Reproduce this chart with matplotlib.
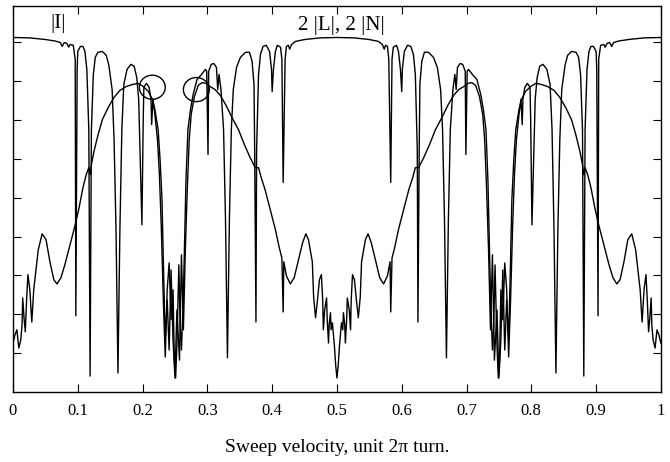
import matplotlib
matplotlib.use('Agg')
import matplotlib.pyplot as plt
from matplotlib.patches import Ellipse

# |I| curve: plateau at the edges and in the middle, cut by narrow resonances
i_x = [0, 0.026, 0.049, 0.065, 0.073, 0.076, 0.079, 0.083, 0.086, 0.088, 0.093, 0.096, 0.097, 0.099,
       0.100, 0.104, 0.108, 0.111, 0.114, 0.117, 0.119, 0.121, 0.124, 0.127, 0.131, 0.138, 0.144,
       0.148, 0.153, 0.156, 0.159, 0.162, 0.165, 0.168, 0.171, 0.176, 0.182, 0.187, 0.191, 0.194,
       0.196, 0.199, 0.201, 0.202, 0.206, 0.210, 0.213, 0.214, 0.216, 0.219, 0.223, 0.226, 0.229,
       0.232, 0.235, 0.238, 0.241, 0.244, 0.247, 0.249, 0.251, 0.253, 0.256, 0.258, 0.260, 0.263,
       0.265, 0.267, 0.270, 0.274, 0.278, 0.284, 0.291, 0.297, 0.299, 0.301, 0.302, 0.306, 0.310,
       0.314, 0.316, 0.318, 0.321, 0.325, 0.328, 0.331, 0.334, 0.337, 0.340, 0.345, 0.351, 0.359,
       0.365, 0.369, 0.372, 0.373, 0.375, 0.376, 0.379, 0.382, 0.386, 0.391, 0.396, 0.399, 0.400,
       0.402, 0.405, 0.408, 0.413, 0.415, 0.417, 0.420, 0.422, 0.425, 0.427, 0.430, 0.436, 0.451,
       0.474, 0.5,
       0.526, 0.549, 0.564, 0.570, 0.573, 0.575, 0.578, 0.580, 0.583, 0.585, 0.587, 0.592, 0.595,
       0.598, 0.600, 0.601, 0.604, 0.609, 0.614, 0.618, 0.621, 0.624, 0.625, 0.627, 0.628, 0.631,
       0.635, 0.641, 0.649, 0.655, 0.660, 0.663, 0.666, 0.669, 0.672, 0.675, 0.679, 0.682, 0.684,
       0.686, 0.690, 0.694, 0.698, 0.699, 0.701, 0.703, 0.709, 0.716, 0.722, 0.726, 0.730, 0.733,
       0.735, 0.737, 0.740, 0.742, 0.744, 0.747, 0.749, 0.751, 0.753, 0.756, 0.759, 0.762, 0.765,
       0.768, 0.771, 0.774, 0.777, 0.781, 0.784, 0.786, 0.787, 0.790, 0.794, 0.798, 0.799, 0.801,
       0.804, 0.806, 0.809, 0.813, 0.818, 0.824, 0.829, 0.832, 0.835, 0.838, 0.841, 0.844, 0.847,
       0.852, 0.856, 0.862, 0.869, 0.873, 0.876, 0.879, 0.881, 0.883, 0.886, 0.889, 0.892, 0.896,
       0.900, 0.901, 0.903, 0.904, 0.907, 0.912, 0.914, 0.917, 0.921, 0.924, 0.927, 0.935, 0.951,
       0.974, 1.0]
i_y = [0.912, 0.911, 0.907, 0.903, 0.899, 0.889, 0.899, 0.897, 0.887, 0.894, 0.892, 0.856, 0.196, 0.830,
       0.876, 0.889, 0.889, 0.876, 0.830, 0.675, 0.041, 0.675, 0.817, 0.861, 0.874, 0.876, 0.866,
       0.840, 0.778, 0.649, 0.418, 0.049, 0.418, 0.675, 0.791, 0.830, 0.843, 0.838, 0.809, 0.753,
       0.624, 0.430, 0.701, 0.784, 0.794, 0.784, 0.753, 0.688, 0.753, 0.714, 0.649, 0.559, 0.418,
       0.237, 0.090, 0.263, 0.332, 0.186, 0.263, 0.082, 0.036, 0.121, 0.327, 0.173, 0.108, 0.250,
       0.392, 0.546, 0.675, 0.727, 0.765, 0.804, 0.817, 0.830, 0.825, 0.611, 0.825, 0.843, 0.845,
       0.835, 0.778, 0.817, 0.778, 0.675, 0.443, 0.088, 0.443, 0.675, 0.778, 0.835, 0.861, 0.874,
       0.874, 0.851, 0.791, 0.624, 0.180, 0.624, 0.817, 0.869, 0.889, 0.892, 0.876, 0.830, 0.773,
       0.830, 0.876, 0.892, 0.887, 0.856, 0.539, 0.856, 0.889, 0.892, 0.882, 0.894, 0.902, 0.907,
       0.911, 0.912,
       0.911, 0.907, 0.902, 0.894, 0.882, 0.892, 0.889, 0.856, 0.539, 0.856, 0.887, 0.892, 0.876,
       0.830, 0.773, 0.830, 0.876, 0.892, 0.889, 0.869, 0.817, 0.624, 0.180, 0.624, 0.791, 0.851,
       0.874, 0.874, 0.861, 0.835, 0.778, 0.675, 0.443, 0.088, 0.443, 0.675, 0.778, 0.817, 0.778,
       0.835, 0.845, 0.843, 0.825, 0.611, 0.825, 0.830, 0.817, 0.804, 0.765, 0.727, 0.675, 0.546,
       0.392, 0.250, 0.108, 0.173, 0.327, 0.121, 0.036, 0.082, 0.263, 0.186, 0.332, 0.263, 0.090,
       0.237, 0.418, 0.559, 0.649, 0.714, 0.753, 0.688, 0.753, 0.784, 0.794, 0.784, 0.701, 0.430,
       0.624, 0.753, 0.809, 0.838, 0.843, 0.830, 0.791, 0.675, 0.418, 0.049, 0.418, 0.649, 0.778,
       0.840, 0.866, 0.876, 0.874, 0.861, 0.817, 0.675, 0.041, 0.675, 0.830, 0.876, 0.889, 0.889,
       0.876, 0.830, 0.196, 0.856, 0.892, 0.894, 0.887, 0.897, 0.899, 0.889, 0.899, 0.903, 0.907,
       0.911, 0.912]

# 2|L|, 2|N| curve: broad arches near 0.2 / 0.3 / 0.7 / 0.8, wiggly minima at 0, 0.5 and 1
ln_x = [0, 0.003, 0.006, 0.009, 0.012, 0.014, 0.015, 0.017, 0.019, 0.021, 0.023, 0.026, 0.029, 0.032,
        0.039, 0.045, 0.051, 0.057, 0.063, 0.068, 0.074, 0.080, 0.088, 0.096, 0.102, 0.108, 0.113,
        0.117, 0.119, 0.121, 0.125, 0.131, 0.138, 0.147, 0.156, 0.165, 0.175, 0.184, 0.193, 0.201,
        0.209, 0.215, 0.219, 0.224, 0.227, 0.230, 0.232, 0.235, 0.238, 0.241, 0.244, 0.247, 0.250,
        0.253, 0.257, 0.260, 0.263, 0.266, 0.269, 0.272, 0.275, 0.280, 0.286, 0.292, 0.298, 0.304,
        0.312, 0.320, 0.329, 0.338, 0.348, 0.357, 0.366, 0.374, 0.379, 0.383, 0.389, 0.397, 0.405,
        0.411, 0.415, 0.417, 0.418, 0.422, 0.428, 0.434, 0.440, 0.447, 0.452, 0.456, 0.462, 0.464,
        0.467, 0.470, 0.473, 0.476, 0.478, 0.479, 0.481, 0.484, 0.485, 0.487, 0.488, 0.490, 0.491,
        0.493, 0.496, 0.498, 0.5,
        0.502, 0.504, 0.507, 0.509, 0.510, 0.512, 0.513, 0.515, 0.516, 0.519, 0.521, 0.522, 0.524,
        0.527, 0.530, 0.533, 0.536, 0.538, 0.544, 0.548, 0.553, 0.560, 0.566, 0.572, 0.578, 0.582,
        0.583, 0.585, 0.589, 0.595, 0.603, 0.611, 0.617, 0.621, 0.626, 0.634, 0.643, 0.652, 0.662,
        0.671, 0.680, 0.688, 0.696, 0.702, 0.708, 0.714, 0.720, 0.725, 0.728, 0.731, 0.734, 0.737,
        0.740, 0.743, 0.747, 0.750, 0.753, 0.756, 0.759, 0.762, 0.765, 0.768, 0.770, 0.773, 0.776,
        0.781, 0.785, 0.791, 0.799, 0.807, 0.816, 0.825, 0.835, 0.844, 0.853, 0.862, 0.869, 0.875,
        0.879, 0.881, 0.883, 0.887, 0.892, 0.898, 0.904, 0.912, 0.920, 0.926, 0.932, 0.937, 0.943,
        0.949, 0.955, 0.961, 0.968, 0.971, 0.974, 0.977, 0.979, 0.981, 0.983, 0.985, 0.986, 0.988,
        0.991, 0.994, 0.997, 1.0]
ln_y = [0.126, 0.147, 0.160, 0.113, 0.134, 0.173, 0.242, 0.191, 0.155, 0.237, 0.302, 0.263, 0.180, 0.263,
        0.366, 0.407, 0.392, 0.335, 0.289, 0.278, 0.294, 0.327, 0.379, 0.430, 0.474, 0.526, 0.559,
        0.577, 0.559, 0.585, 0.619, 0.660, 0.701, 0.732, 0.758, 0.776, 0.786, 0.791, 0.794, 0.786,
        0.773, 0.753, 0.727, 0.675, 0.598, 0.495, 0.340, 0.134, 0.237, 0.108, 0.314, 0.134, 0.036,
        0.211, 0.082, 0.353, 0.160, 0.366, 0.521, 0.649, 0.714, 0.760, 0.789, 0.796, 0.794, 0.786,
        0.778, 0.763, 0.737, 0.706, 0.675, 0.637, 0.603, 0.577, 0.577, 0.552, 0.521, 0.469, 0.418,
        0.371, 0.345, 0.206, 0.335, 0.299, 0.278, 0.294, 0.335, 0.384, 0.407, 0.392, 0.335, 0.245,
        0.191, 0.237, 0.289, 0.302, 0.237, 0.160, 0.211, 0.242, 0.186, 0.126, 0.173, 0.204, 0.160,
        0.178, 0.121, 0.070, 0.036,
        0.070, 0.121, 0.178, 0.160, 0.204, 0.173, 0.126, 0.186, 0.242, 0.211, 0.160, 0.237, 0.302,
        0.289, 0.237, 0.191, 0.245, 0.335, 0.392, 0.407, 0.384, 0.335, 0.294, 0.278, 0.299, 0.335,
        0.206, 0.345, 0.371, 0.418, 0.469, 0.521, 0.552, 0.577, 0.577, 0.603, 0.637, 0.675, 0.706,
        0.737, 0.763, 0.778, 0.786, 0.794, 0.796, 0.789, 0.760, 0.714, 0.649, 0.521, 0.366, 0.160,
        0.353, 0.082, 0.211, 0.036, 0.134, 0.314, 0.108, 0.237, 0.134, 0.340, 0.495, 0.598, 0.675,
        0.727, 0.753, 0.773, 0.786, 0.794, 0.791, 0.786, 0.776, 0.758, 0.732, 0.701, 0.660, 0.619,
        0.585, 0.559, 0.577, 0.559, 0.526, 0.474, 0.430, 0.379, 0.327, 0.294, 0.278, 0.289, 0.335,
        0.392, 0.407, 0.366, 0.263, 0.180, 0.263, 0.302, 0.237, 0.155, 0.191, 0.242, 0.173, 0.134,
        0.113, 0.160, 0.147, 0.126]

# the two circled touching points
circle_x = [0.215, 0.283]
circle_y = [0.784, 0.778]

x_ticks = [0, 0.1, 0.2, 0.3, 0.4, 0.5, 0.6, 0.7, 0.8, 0.9, 1]
x_tick_labels = ['0', '0.1', '0.2', '0.3', '0.4', '0.5', '0.6', '0.7', '0.8', '0.9', '1']
y_ticks = [0.1, 0.2, 0.3, 0.4, 0.5, 0.6, 0.7, 0.8, 0.9]

plt.rcParams['font.family'] = ['Liberation Serif', 'DejaVu Serif']

fig = plt.figure(figsize=(6.7, 4.62), dpi=100)
ax = fig.add_axes([0.0194, 0.1515, 0.967, 0.8355])

ax.plot(i_x, i_y, color='black', lw=1.0)
ax.plot(ln_x, ln_y, color='black', lw=1.0)

for cx, cy in zip(circle_x, circle_y):
    ax.add_patch(Ellipse((cx, cy), 0.040, 0.062, fill=False, edgecolor='black', lw=1.0))

ax.text(0.07, 0.948, '|I|', fontsize=15, ha='center', va='center')
ax.text(0.507, 0.942, '2 |L|, 2 |N|', fontsize=15, ha='center', va='center')

ax.set_xlim(0, 1)
ax.set_ylim(0, 0.993)
ax.set_xticks(x_ticks)
ax.set_xticklabels(x_tick_labels)
ax.set_yticks(y_ticks)
ax.set_yticklabels([])
ax.tick_params(direction='in', length=6, width=0.8, top=True, right=True, labelsize=12, pad=8)
for s in ax.spines.values():
    s.set_linewidth(1.0)

ax.set_xlabel('Sweep velocity, unit 2π turn.', fontsize=14, labelpad=14)

fig.savefig('out.png', dpi=100)
